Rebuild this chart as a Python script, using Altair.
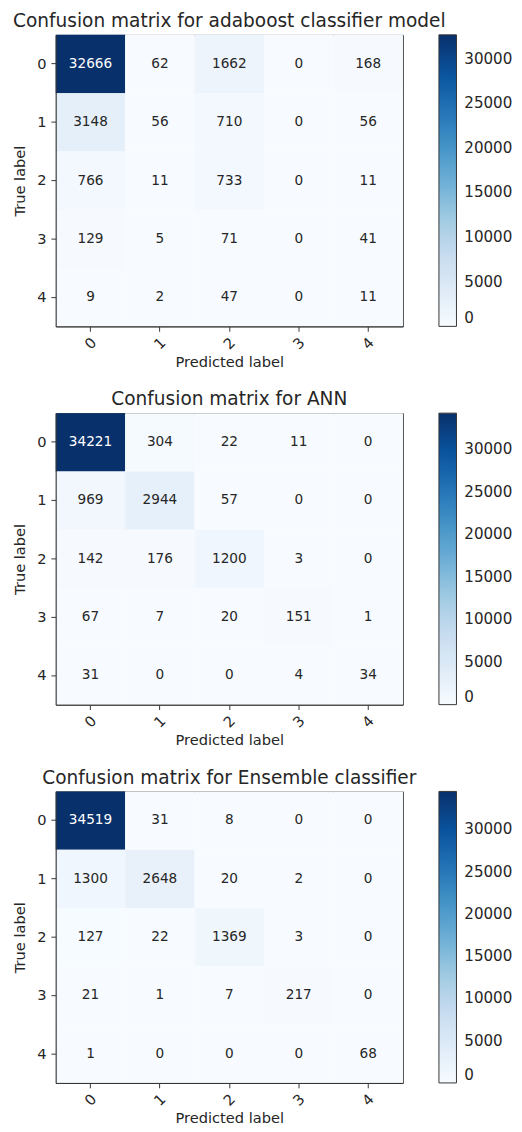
import altair as alt
import pandas as pd

classes = ["0", "1", "2", "3", "4"]
titles = [
    "Confusion matrix for adaboost classifier model",
    "Confusion matrix for ANN",
    "Confusion matrix for Ensemble classifier",
]
adaboost = [
    [32666, 62, 1662, 0, 168],
    [3148, 56, 710, 0, 56],
    [766, 11, 733, 0, 11],
    [129, 5, 71, 0, 41],
    [9, 2, 47, 0, 11],
]
ann = [
    [34221, 304, 22, 11, 0],
    [969, 2944, 57, 0, 0],
    [142, 176, 1200, 3, 0],
    [67, 7, 20, 151, 1],
    [31, 0, 0, 4, 34],
]
ensemble = [
    [34519, 31, 8, 0, 0],
    [1300, 2648, 20, 2, 0],
    [127, 22, 1369, 3, 0],
    [21, 1, 7, 217, 0],
    [1, 0, 0, 0, 68],
]
legend_ticks = [0, 5000, 10000, 15000, 20000, 25000, 30000]
blues = ["#f7fbff", "#deebf7", "#c6dbef", "#9ecae1", "#6baed6",
         "#4292c6", "#2171b5", "#08519c", "#08306b"]

FONT = "DejaVu Sans"
W, H = 356, 299


def panel(title, matrix):
    vmax = max(max(r) for r in matrix)
    rows = []
    for i, t in enumerate(classes):
        for j, p in enumerate(classes):
            v = matrix[i][j]
            rows.append({"true": t, "pred": p, "count": v, "dark": v > vmax / 2})
    df = pd.DataFrame(rows)
    domain = [vmax * k / 8 for k in range(9)]
    xenc = alt.X("pred:O", sort=classes, title="Predicted label",
                 scale=alt.Scale(paddingInner=0, paddingOuter=0),
                 axis=alt.Axis(labelAngle=315, labelAlign="center", labelBaseline="middle",
                               labelPadding=12, tickSize=5, titlePadding=3))
    yenc = alt.Y("true:O", sort=classes, title="True label",
                 scale=alt.Scale(paddingInner=0, paddingOuter=0),
                 axis=alt.Axis(labelAngle=0, tickSize=5, labelPadding=5, titlePadding=10))
    base = alt.Chart(df)
    rect = base.mark_rect().encode(
        x=xenc, y=yenc,
        color=alt.Color("count:Q",
                        scale=alt.Scale(domain=domain, range=blues),
                        legend=alt.Legend(title=None, values=legend_ticks, format="d",
                                          gradientLength=H, gradientThickness=18,
                                          gradientStrokeColor="#333", gradientStrokeWidth=1,
                                          labelFontSize=15.5, labelFont=FONT, labelColor="#262626",
                                          labelOverlap=False, offset=37, labelOffset=8)),
    )
    text = base.mark_text(fontSize=14, font=FONT).encode(
        x=xenc, y=yenc,
        text=alt.Text("count:Q", format="d"),
        color=alt.condition("datum.dark", alt.value("white"), alt.value("#262626")),
    )
    return alt.layer(rect, text).properties(
        width=W, height=H,
        title=alt.TitleParams(title, fontSize=19, font=FONT, fontWeight="normal",
                              color="#262626", offset=4),
    )


chart = alt.vconcat(
    panel(titles[0], adaboost),
    panel(titles[1], ann),
    panel(titles[2], ensemble),
    spacing=20,
).resolve_scale(color="independent").properties(
    padding={"left": 3, "top": -11, "right": 0, "bottom": 0}, background="white"
).configure_view(
    stroke="#333", strokeWidth=1
).configure_axis(
    labelFont=FONT, titleFont=FONT, labelFontSize=15, titleFontSize=15,
    titleFontWeight="normal", labelColor="#262626", titleColor="#262626",
    domainColor="#333", tickColor="#333", grid=False,
)

chart.save("out.html", embed_options={"renderer": "svg", "actions": False})
